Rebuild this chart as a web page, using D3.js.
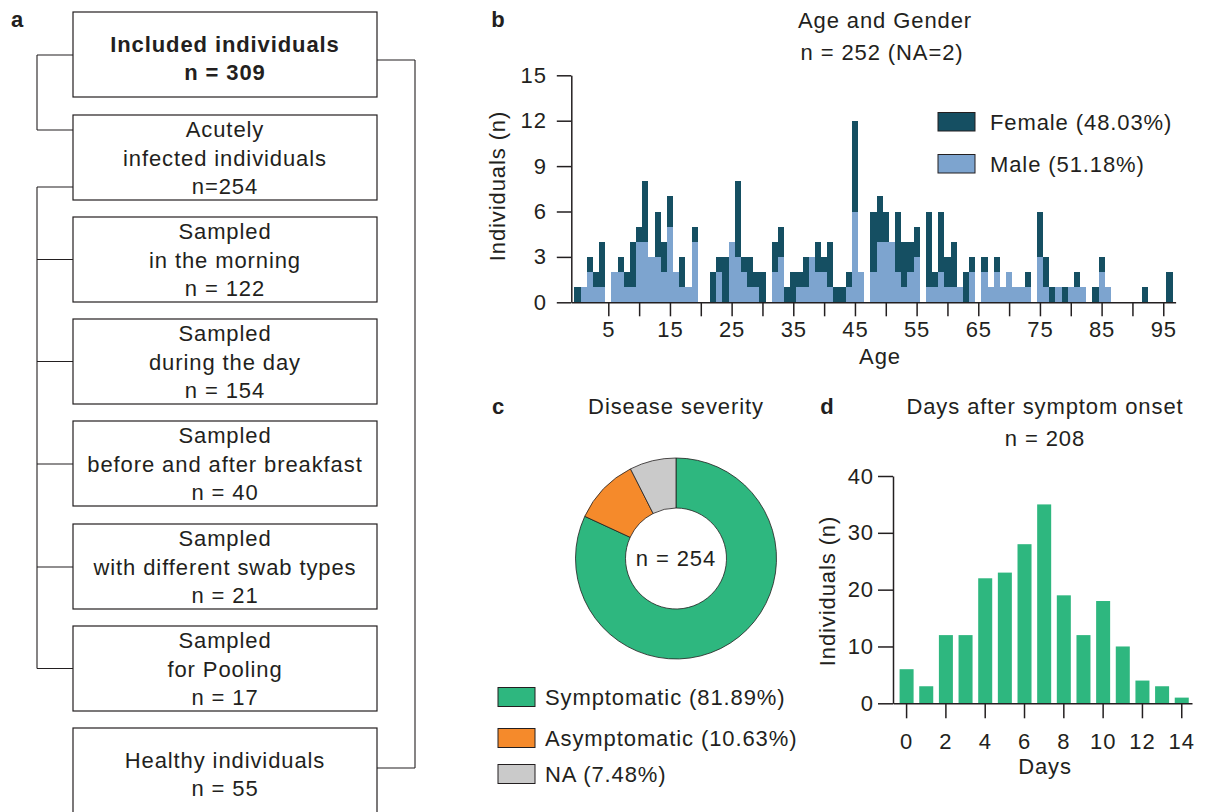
<!DOCTYPE html>
<html>
<head>
<meta charset="utf-8">
<script src="https://cdn.jsdelivr.net/npm/d3@7"></script>
<style>
  html, body { margin: 0; padding: 0; background: #fff; }
  svg { display: block; }
  text { font-family: "Liberation Sans", Arial, Helvetica, sans-serif; fill: #231f20; }
</style>
</head>
<body>
<svg id="fig" width="1205" height="812"></svg>
<script>
// ---------- data ----------
// a: study flow
const flowBoxes = [
  { lines: ["Included individuals", "n = 309"], bold: true },
  { lines: ["Acutely", "infected individuals", "n=254"] },
  { lines: ["Sampled", "in the morning", "n = 122"] },
  { lines: ["Sampled", "during the day", "n = 154"] },
  { lines: ["Sampled", "before and after breakfast", "n = 40"] },
  { lines: ["Sampled", "with different swab types", "n = 21"] },
  { lines: ["Sampled", "for Pooling", "n = 17"] },
  { lines: ["Healthy individuals", "n = 55"] }
];

// b: age distribution, one bin per year of age (0–96)
const ages = d3.range(0, 97);
const femaleCounts = [
  1,0,1,1,3,0,0,1,1,3,
  1,4,0,3,2,2,0,2,0,1,
  0,0,2,1,3,0,5,1,2,1,
  2,0,2,2,1,2,1,2,0,2,
  1,3,1,1,1,6,0,0,4,3,
  2,0,4,3,2,2,0,5,1,4,
  2,3,0,2,1,0,1,0,1,0,
  0,0,0,1,0,3,2,1,0,1,
  0,1,0,0,1,1,0,0,0,0,
  0,0,1,0,0,0,2
];
const maleCounts = [
  0,1,2,1,1,0,2,2,1,1,
  4,4,3,3,2,5,2,1,1,4,
  0,0,0,2,0,4,3,2,1,1,
  0,0,2,3,0,0,1,1,3,2,
  2,1,0,0,1,6,2,0,2,4,
  4,4,2,1,2,3,0,1,1,2,
  1,1,1,0,2,0,2,1,2,1,
  2,1,1,1,0,3,1,0,1,0,
  1,1,1,0,0,2,1,0,0,0,
  0,0,0,0,0,0,0
];
const genderLegend = ["Female (48.03%)", "Male (51.18%)"];
const ageYTicks = [0, 3, 6, 9, 12, 15];
const ageXTicks = [5, 10, 15, 20, 25, 30, 35, 40, 45, 50, 55, 60, 65, 70, 75, 80, 85, 90, 95];
const ageXLabels = [5, 15, 25, 35, 45, 55, 65, 75, 85, 95];

// c: disease severity
const severityLabels = ["Symptomatic (81.89%)", "Asymptomatic (10.63%)", "NA (7.48%)"];
const severityCounts = [208, 27, 19];

// d: days after symptom onset
const onsetDays = [0, 1, 2, 3, 4, 5, 6, 7, 8, 9, 10, 11, 12, 13, 14];
const onsetCounts = [6, 3, 12, 12, 22, 23, 28, 35, 19, 12, 18, 10, 4, 3, 1];
const onsetYTicks = [0, 10, 20, 30, 40];
const onsetXTicks = [0, 2, 4, 6, 8, 10, 12, 14];

// ---------- styles ----------
const INK = "#231f20";
const FEMALE = "#154f62";
const MALE = "#7da4cf";
const SEVERITY_COLORS = ["#2eb77f", "#f58a2b", "#cacaca"];
const GREEN = "#2eb77f";
const FS = 22;        // body font size
const LS = 0.9;       // letter spacing

const svg = d3.select("#fig");
svg.append("rect").attr("width", 1205).attr("height", 812).attr("fill", "#fff");

function txt(g, x, y, s, opts = {}) {
  return g.append("text")
    .attr("x", x).attr("y", y)
    .attr("text-anchor", opts.anchor || "middle")
    .attr("dominant-baseline", "central")
    .attr("font-size", opts.size || FS)
    .attr("font-weight", opts.bold ? "bold" : "normal")
    .attr("letter-spacing", opts.ls !== undefined ? opts.ls : LS)
    .text(s);
}

function styleAxis(g) {
  g.select(".domain").attr("stroke", INK).attr("stroke-width", 1.5);
  g.selectAll(".tick line").attr("stroke", INK).attr("stroke-width", 1.5);
  g.selectAll(".tick text")
    .attr("font-size", FS)
    .attr("letter-spacing", LS)
    .attr("fill", INK)
    .style("font-family", "'Liberation Sans', Arial, sans-serif");
}

// ---------- panel labels ----------
txt(svg, 17, 19, "a", { bold: true, size: 22, ls: 0 });
txt(svg, 498, 19, "b", { bold: true, size: 22, ls: 0 });
txt(svg, 498, 406, "c", { bold: true, size: 22, ls: 0 });
txt(svg, 827, 406, "d", { bold: true, size: 22, ls: 0 });

// ---------- a: flow chart ----------
(function () {
  const g = svg.append("g");
  const bx0 = 73, bx1 = 377, bh = 85;
  const tops = [12, 115, 217, 319, 421, 524, 626, 728];
  const cx = (bx0 + bx1) / 2;

  flowBoxes.forEach((b, i) => {
    const top = tops[i];
    g.append("rect")
      .attr("x", bx0).attr("y", top)
      .attr("width", bx1 - bx0).attr("height", i === tops.length - 1 ? 100 : bh)
      .attr("fill", "#fff").attr("stroke", INK).attr("stroke-width", 1.2);
    const offs = b.lines.length === 2 ? [32, 60.5] : [14.5, 43.2, 71.8];
    b.lines.forEach((s, j) => txt(g, cx, top + offs[j], s, { bold: !!b.bold }));
  });

  const line = (x1, y1, x2, y2) => g.append("line")
    .attr("x1", x1).attr("y1", y1).attr("x2", x2).attr("y2", y2)
    .attr("stroke", INK).attr("stroke-width", 1.1);

  // included -> acutely infected
  line(37, 55, 37, 130); line(37, 55, bx0, 55); line(37, 130, bx0, 130);
  // acutely infected -> sampling subsets
  const subs = [187, 259.5, 361.5, 464, 567, 668.5];
  line(37, subs[0], 37, subs[subs.length - 1]);
  subs.forEach(y => line(37, y, bx0, y));
  // included -> healthy
  line(415, 60, 415, 768); line(bx1, 60, 415, 60); line(bx1, 768, 415, 768);
})();

// ---------- b: age and gender ----------
(function () {
  const g = svg.append("g");
  const x = d3.scaleLinear().domain([-1, 97]).range([571.3, 1175.6]);
  const y = d3.scaleLinear().domain([0, 15]).range([302.3, 75.3]);

  const rows = ages.map((a, i) => ({ age: a, male: maleCounts[i], female: femaleCounts[i] }));
  const stack = d3.stack().keys(["male", "female"])(rows);
  const colors = { male: MALE, female: FEMALE };

  stack.forEach(layer => {
    g.append("g").selectAll("rect").data(layer).join("rect")
      .attr("x", d => x(d.data.age - 0.5))
      .attr("width", d => x(d.data.age + 0.5) - x(d.data.age - 0.5))
      .attr("y", d => y(d[1]))
      .attr("height", d => y(d[0]) - y(d[1]))
      .attr("fill", colors[layer.key])
      .attr("shape-rendering", "crispEdges");
  });

  const yAxis = g.append("g").attr("transform", `translate(${x(-1)},0)`)
    .call(d3.axisLeft(y).tickValues(ageYTicks).tickSize(14.5).tickSizeOuter(0).tickPadding(10));
  styleAxis(yAxis);

  const xAxis = g.append("g").attr("transform", `translate(0,${y(0)})`)
    .call(d3.axisBottom(x).tickValues(ageXTicks).tickSize(14).tickSizeOuter(0).tickPadding(5)
      .tickFormat(v => ageXLabels.includes(v) ? v : ""));
  styleAxis(xAxis);

  txt(g, 885, 20, "Age and Gender");
  txt(g, 882, 52, "n = 252 (NA=2)");
  txt(g, 880, 356, "Age");
  txt(g, 0, 0, "Individuals (n)").attr("transform", "translate(497,186) rotate(-90)");

  // legend
  const leg = [[FEMALE, 112.5], [MALE, 154.5]];
  leg.forEach(([c, yy], i) => {
    g.append("rect").attr("x", 938).attr("y", yy).attr("width", 37).attr("height", 18.5)
      .attr("fill", c).attr("stroke", INK).attr("stroke-width", 1);
    txt(g, 990, yy + 9.5, genderLegend[i], { anchor: "start" });
  });
})();

// ---------- c: disease severity ----------
(function () {
  const g = svg.append("g");
  const cx = 676, cy = 558.5;
  const pie = d3.pie().sort(null).value(d => d)(severityCounts);
  const arc = d3.arc().innerRadius(50.5).outerRadius(100.5);

  g.append("g").attr("transform", `translate(${cx},${cy})`)
    .selectAll("path").data(pie).join("path")
    .attr("d", arc)
    .attr("fill", (d, i) => SEVERITY_COLORS[i])
    .attr("stroke", INK).attr("stroke-width", 0.8);

  txt(g, cx, cy, "n = 254");
  txt(g, 676, 406, "Disease severity");

  const legY = [697, 738, 774];
  severityLabels.forEach((s, i) => {
    g.append("rect").attr("x", 498).attr("y", legY[i] - 9.5).attr("width", 37).attr("height", 19)
      .attr("fill", SEVERITY_COLORS[i]).attr("stroke", INK).attr("stroke-width", 1);
    txt(g, 545, legY[i], s, { anchor: "start" });
  });
})();

// ---------- d: days after symptom onset ----------
(function () {
  const g = svg.append("g");
  const x = d3.scaleBand().domain(onsetDays).range([893, 1192])
    .paddingInner(0.287).paddingOuter(0.25).align(0.67);
  const y = d3.scaleLinear().domain([0, 40]).range([703.3, 476]);

  g.append("g").selectAll("rect").data(onsetDays).join("rect")
    .attr("x", d => x(d))
    .attr("width", x.bandwidth())
    .attr("y", (d, i) => y(onsetCounts[i]))
    .attr("height", (d, i) => y(0) - y(onsetCounts[i]))
    .attr("fill", GREEN);

  const yAxis = g.append("g").attr("transform", "translate(893,0)")
    .call(d3.axisLeft(y).tickValues(onsetYTicks).tickSize(15).tickSizeOuter(0).tickPadding(4));
  styleAxis(yAxis);

  const xAxis = g.append("g").attr("transform", `translate(0,${y(0)})`)
    .call(d3.axisBottom(x).tickValues(onsetXTicks).tickSize(15).tickSizeOuter(0).tickPadding(15));
  styleAxis(xAxis);

  txt(g, 1045, 406, "Days after symptom onset");
  txt(g, 1045, 438, "n = 208");
  txt(g, 1045, 766, "Days");
  txt(g, 0, 0, "Individuals (n)").attr("transform", "translate(827,591) rotate(-90)");
})();
</script>
</body>
</html>
